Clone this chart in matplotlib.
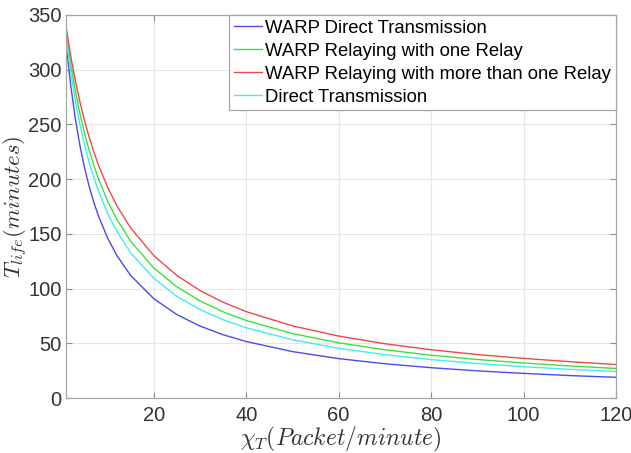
import matplotlib
matplotlib.use("Agg")
import matplotlib.pyplot as plt
import numpy as np

# packet rate (Packet/minute) and lifetime (minutes)
chi = [1, 2, 3, 4, 5, 6, 7, 8, 10, 12, 15, 20, 25, 30, 35, 40,
       50, 60, 70, 80, 90, 100, 110, 120]

warp_direct = [325.2, 286.2, 255.6, 230.9, 210.6, 193.5, 179.0, 166.6, 146.2,
               130.2, 111.9, 90.7, 76.2, 65.7, 57.8, 51.6,
               42.4, 36.0, 31.3, 27.7, 24.8, 22.5, 20.5, 18.9]
warp_one_relay = [334.9, 305.7, 281.1, 260.2, 242.2, 226.5, 212.8, 200.6, 179.9,
                  163.2, 143.1, 118.8, 101.6, 88.7, 78.7, 70.8,
                  58.9, 50.4, 44.1, 39.1, 35.2, 32.0, 29.3, 27.0]
warp_multi_relay = [339.5, 313.0, 290.3, 270.7, 253.5, 238.5, 225.1, 213.1, 192.6,
                    175.7, 155.3, 130.1, 111.9, 98.2, 87.5, 78.9,
                    65.9, 56.6, 49.6, 44.1, 39.7, 36.2, 33.2, 30.6]
direct = [330.2, 298.5, 272.3, 250.3, 231.6, 215.6, 201.6, 189.3, 168.7,
          152.2, 132.6, 109.3, 92.9, 80.8, 71.5, 64.1,
          53.2, 45.4, 39.6, 35.1, 31.5, 28.6, 26.2, 24.2]

labels = ["WARP Direct Transmission",
          "WARP Relaying with one Relay",
          "WARP Relaying with more than one Relay",
          "Direct Transmission"]
colors = ["#4a4af0", "#3ee03e", "#f04848", "#40eeee"]

plt.rcParams['font.family'] = ['Liberation Sans', 'DejaVu Sans']
plt.rcParams['mathtext.fontset'] = 'cm'

fig = plt.figure(figsize=(6.31, 4.53), dpi=100)
ax = fig.add_axes([0.1046, 0.1214, 0.8716, 0.8456])

for y, lab, c in zip([warp_direct, warp_one_relay, warp_multi_relay, direct],
                     labels, colors):
    ax.plot(chi, y, color=c, lw=1.0, label=lab)

ax.set_xlim(1, 120)
ax.set_ylim(0, 350)
ax.set_xticks(np.arange(20, 121, 20))
ax.set_yticks(np.arange(0, 351, 50))
ax.grid(True, color='#e6e6e6', lw=0.8)
ax.set_axisbelow(True)
ax.tick_params(direction='in', top=True, right=True, length=4,
               color='#8c8c8c', labelsize=14.5, labelcolor='#333333')
ax.tick_params(axis='x', pad=6)
ax.tick_params(axis='y', pad=3)
for s in ax.spines.values():
    s.set_color('#a6a6a6')
    s.set_linewidth(0.9)

ax.set_xlabel(r'$\chi_T(Packet/minute)$', fontsize=17, color='#333333', labelpad=0)
ax.set_ylabel(r'$T_{life}(minutes)$', fontsize=16.5, color='#333333', labelpad=-1)

leg = ax.legend(loc='upper right', borderaxespad=0, fancybox=False,
                framealpha=1, edgecolor='#a6a6a6', fontsize=13.3,
                handlelength=1.5, handletextpad=0.2, labelspacing=0.33,
                borderpad=0.25)
leg.get_frame().set_linewidth(0.9)

plt.savefig("out.png", dpi=100)
